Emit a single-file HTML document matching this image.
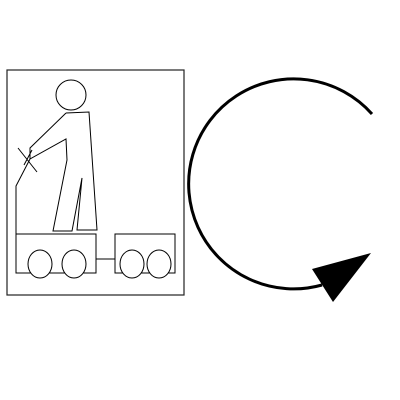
<!DOCTYPE html>
<html><head><meta charset="utf-8"><style>html,body{margin:0;padding:0;background:#fff}svg{display:block}</style></head>
<body>
<svg width="400" height="400" viewBox="0 0 400 400">
<rect x="7" y="70" width="177" height="225" fill="none" stroke="#222" stroke-width="1.2"/>
<g fill="none" stroke="#000" stroke-width="1">
<ellipse cx="71" cy="95" rx="15" ry="15"/>
<path d="M66 113 L89 112 L97 230 L77 230 L82 178 L72 231 L53 231 L67 160 L66 139 L30 159 L16 186 L16 234"/>
<path d="M66 113 L30 148 L30 159"/>
<path d="M18 148 L37 172 M24 165 L32 150"/>
</g>
<g fill="none" stroke="#000" stroke-width="1">
<path d="M16 234 L96 234 L96 273 L16 273 Z"/>
<rect x="115" y="234" width="60" height="39"/>
<line x1="96" y1="259" x2="115" y2="259"/>
<ellipse cx="40" cy="264" rx="12" ry="14" fill="#fff"/>
<ellipse cx="74" cy="264" rx="12" ry="14" fill="#fff"/>
<ellipse cx="132" cy="264" rx="12" ry="14" fill="#fff"/>
<ellipse cx="159" cy="264" rx="12" ry="14" fill="#fff"/>
</g>
<path d="M372 114 A 105 105 0 1 0 322 285" fill="none" stroke="#000" stroke-width="3"/>
<polygon points="312,269 371,253 333,302" fill="#000"/>
</svg>
</body></html>
